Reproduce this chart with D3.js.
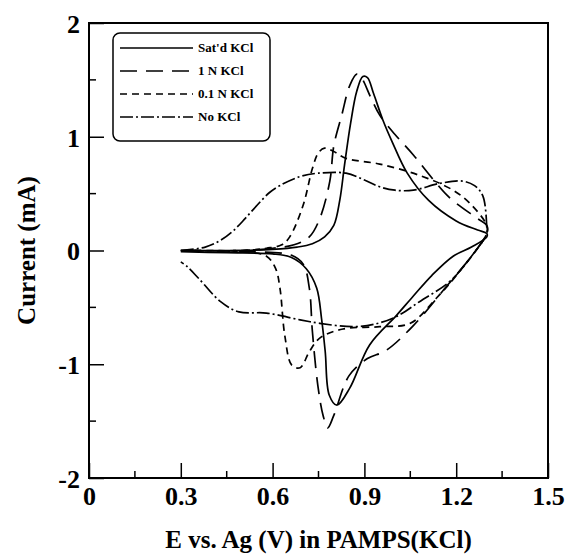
<!DOCTYPE html>
<html>
<head>
<meta charset="utf-8">
<script src="https://cdn.jsdelivr.net/npm/d3@7"></script>
<style>
  body { margin: 0; background: #fff; }
  text { font-family: "Liberation Serif", "Times New Roman", serif; font-weight: bold; }
</style>
</head>
<body>
<div class="chart"></div>
<script>
var svgWidth = 568;
var svgHeight = 556;

var margin = { top: 23, right: 20, bottom: 78, left: 89 };
var width = svgWidth - margin.left - margin.right;
var height = svgHeight - margin.top - margin.bottom;

// data: potential (V) and current (mA), forward then reverse scan
var satE = [0.3, 0.4, 0.5, 0.6, 0.68, 0.73, 0.77, 0.80, 0.82, 0.835, 0.855, 0.875, 0.895, 0.91, 0.93, 0.96, 0.99, 1.04, 1.11, 1.2, 1.27, 1.3,
  1.3, 1.25, 1.19, 1.12, 1.06, 1.005, 0.917, 0.852, 0.81, 0.785, 0.772, 0.76, 0.744, 0.71, 0.66, 0.6, 0.45, 0.3];
var satI = [0, 0, 0, 0.01, 0.03, 0.06, 0.12, 0.22, 0.45, 0.75, 1.12, 1.40, 1.53, 1.52, 1.38, 1.15, 0.96, 0.68, 0.44, 0.26, 0.18, 0.15,
  0.12, 0.03, -0.05, -0.22, -0.40, -0.57, -0.83, -1.21, -1.36, -1.27, -0.89, -0.6, -0.33, -0.16, -0.06, -0.03, -0.02, -0.01];

var n1E = [0.3, 0.5, 0.6, 0.67, 0.72, 0.754, 0.787, 0.80, 0.826, 0.852, 0.875, 0.89, 0.92, 0.95, 1.0, 1.06, 1.12, 1.18, 1.27, 1.3,
  1.3, 1.25, 1.17, 1.06, 0.97, 0.91, 0.85, 0.80, 0.78, 0.765, 0.748, 0.73, 0.72, 0.70, 0.66, 0.5, 0.3];
var n1I = [0, 0, 0.02, 0.05, 0.12, 0.28, 0.61, 0.92, 1.19, 1.45, 1.55, 1.52, 1.35, 1.19, 1.02, 0.84, 0.64, 0.46, 0.28, 0.22,
  0.15, -0.05, -0.31, -0.66, -0.88, -0.95, -1.1, -1.45, -1.56, -1.45, -1.19, -0.71, -0.33, -0.12, -0.04, -0.01, 0];

var n01E = [0.3, 0.5, 0.58, 0.63, 0.656, 0.70, 0.73, 0.75, 0.77, 0.80, 0.84, 0.95, 1.08, 1.19, 1.25, 1.3,
  1.3, 1.2, 1.135, 1.05, 0.95, 0.83, 0.754, 0.72, 0.69, 0.663, 0.64, 0.624, 0.61, 0.58, 0.5, 0.3];
var n01I = [0, 0, 0.02, 0.05, 0.12, 0.40, 0.72, 0.86, 0.90, 0.87, 0.81, 0.76, 0.66, 0.53, 0.40, 0.22,
  0.15, -0.22, -0.42, -0.64, -0.67, -0.69, -0.77, -0.89, -1.03, -1.01, -0.75, -0.33, -0.16, -0.05, -0.01, 0];

var noE = [0.3, 0.38, 0.43, 0.47, 0.51, 0.55, 0.59, 0.623, 0.69, 0.75, 0.84, 0.90, 0.95, 1.0, 1.06, 1.146, 1.22, 1.26, 1.287, 1.3,
  1.3, 1.25, 1.18, 1.08, 1.005, 0.93, 0.86, 0.754, 0.69, 0.58, 0.49, 0.43, 0.36, 0.32, 0.3];
var noI = [0, 0.03, 0.09, 0.17, 0.28, 0.40, 0.51, 0.57, 0.65, 0.68, 0.68, 0.62, 0.56, 0.53, 0.53, 0.59, 0.61, 0.57, 0.48, 0.2,
  0.15, -0.05, -0.27, -0.45, -0.58, -0.65, -0.67, -0.64, -0.61, -0.55, -0.54, -0.45, -0.25, -0.14, -0.1];

var seriesNames = ["Sat'd KCl", "1 N KCl", "0.1 N KCl", "No KCl"];
var seriesE = [satE, n1E, n01E, noE];
var seriesI = [satI, n1I, n01I, noI];
var dashes = [null, "17,9", "7,5", "13,3,2,3"];

var xTicks = [0, 0.3, 0.6, 0.9, 1.2, 1.5];
var yTicks = [-2, -1, 0, 1, 2];

var svg = d3.select(".chart")
  .append("svg")
  .attr("width", svgWidth)
  .attr("height", svgHeight);

var chartGroup = svg.append("g")
  .attr("transform", `translate(${margin.left}, ${margin.top})`);

// scales
var xScale = d3.scaleLinear().domain([0, 1.5]).range([0, width]);
var yScale = d3.scaleLinear().domain([-2, 2]).range([height, 0]);

// frame
chartGroup.append("rect")
  .attr("width", width)
  .attr("height", height)
  .attr("fill", "none")
  .attr("stroke", "#000")
  .attr("stroke-width", 2);

// axes with inward ticks
var xAxis = d3.axisBottom(xScale).tickValues(xTicks).tickFormat(d => d)
  .tickSize(-15).tickPadding(27);
var yAxis = d3.axisLeft(yScale).tickValues(yTicks).tickFormat(d => d)
  .tickSize(-15).tickPadding(9);

var gx = chartGroup.append("g")
  .attr("transform", `translate(0, ${height})`)
  .call(xAxis);
var gy = chartGroup.append("g").call(yAxis);

[gx, gy].forEach(g => {
  g.select(".domain").remove();
  g.selectAll(".tick line").attr("stroke-width", 1.5);
  g.selectAll("text").style("font-size", "26px").attr("fill", "#000");
});
gx.selectAll("text").attr("dy", "0");
gy.selectAll("text").attr("dy", "0.36em");

// minor ticks
var xMinor = d3.range(0.15, 1.5, 0.3);
chartGroup.selectAll(".xminor").data(xMinor).enter().append("line")
  .attr("x1", d => xScale(d)).attr("x2", d => xScale(d))
  .attr("y1", height).attr("y2", height - 7)
  .attr("stroke", "#000").attr("stroke-width", 1.5);
var yMinor = [-1.5, -0.5, 0.5, 1.5];
chartGroup.selectAll(".yminor").data(yMinor).enter().append("line")
  .attr("y1", d => yScale(d)).attr("y2", d => yScale(d))
  .attr("x1", 0).attr("x2", 7)
  .attr("stroke", "#000").attr("stroke-width", 1.5);

// curves
var line = d3.line()
  .x(d => xScale(d[0]))
  .y(d => yScale(d[1]))
  .curve(d3.curveCatmullRom.alpha(0.5));

seriesNames.forEach((name, k) => {
  var pts = seriesE[k].map((e, i) => [e, seriesI[k][i]]);
  chartGroup.append("path")
    .attr("d", line(pts))
    .attr("fill", "none")
    .attr("stroke", "#000")
    .attr("stroke-width", 1.7)
    .attr("stroke-dasharray", dashes[k]);
});

// legend
var legend = svg.append("g").attr("transform", "translate(113, 33)");
legend.append("rect")
  .attr("width", 157).attr("height", 108)
  .attr("rx", 7)
  .attr("fill", "#fff")
  .attr("stroke", "#000")
  .attr("stroke-width", 1.5);
seriesNames.forEach((name, k) => {
  var y = 15 + k * 23;
  legend.append("line")
    .attr("x1", 7).attr("x2", 80)
    .attr("y1", y).attr("y2", y)
    .attr("stroke", "#000")
    .attr("stroke-width", 1.7)
    .attr("stroke-dasharray", dashes[k]);
  legend.append("text")
    .attr("x", 85).attr("y", y + 4)
    .style("font-size", "13px")
    .text(name);
});

// axis titles
svg.append("text")
  .attr("x", margin.left + width / 2)
  .attr("y", 548)
  .attr("text-anchor", "middle")
  .style("font-size", "25px")
  .text("E vs. Ag (V) in PAMPS(KCl)");

svg.append("text")
  .attr("transform", `translate(35, ${margin.top + height / 2}) rotate(-90)`)
  .attr("text-anchor", "middle")
  .style("font-size", "25px")
  .text("Current (mA)");
</script>
</body>
</html>
